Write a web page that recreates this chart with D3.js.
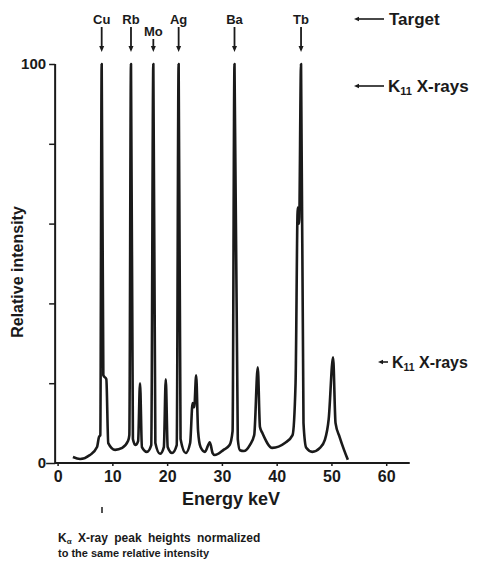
<!DOCTYPE html>
<html>
<head>
<meta charset="utf-8">
<script src="https://cdn.jsdelivr.net/npm/d3@7"></script>
<style>
  body { margin: 0; background: #fff; }
  svg text { font-family: "Liberation Sans", Arial, sans-serif; fill: #1a1a1a; }
</style>
</head>
<body>
<div id="chart"></div>
<script>
// spectrum: [energy keV, relative intensity]
var spectrum = [
    [2.8, 1.5], [4.1, 1.0], [5.9, 2.0], [7.2, 4.0], [7.55, 6.5], [7.8, 7],
    [8.05, 100], [8.35, 22], [8.9, 21], [9.25, 5],
    [10.5, 3.3], [11.8, 3.8], [12.85, 5.5], [13.1, 7],
    [13.4, 100], [13.75, 6], [14.2, 4.5], [14.7, 5.5],
    [15.05, 20], [15.4, 4], [16.3, 2.8], [17.1, 4.5],
    [17.48, 100], [17.85, 5], [18.7, 2.3], [19.4, 4],
    [19.75, 21], [20.1, 4], [20.9, 2.5], [21.75, 4.5],
    [22.1, 100], [22.45, 6], [23.4, 2.5], [24.2, 5],
    [24.65, 15], [24.95, 14], [25.3, 22], [25.65, 8], [26.1, 4],
    [26.9, 2.8], [27.8, 5.2], [28.3, 2.5], [28.7, 2.0],
    [30.3, 3.3], [31.4, 4.5], [31.95, 8],
    [32.3, 100], [32.9, 6], [33.3, 3.2], [34.0, 3.0],
    [35.1, 4.5], [35.9, 7], [36.55, 24], [36.95, 9], [37.4, 7.5],
    [39.2, 3.8], [41.5, 5], [42.9, 7], [43.45, 20],
    [43.85, 64], [44.1, 60], [44.45, 100], [44.9, 10], [45.4, 3.8],
    [46.5, 2.8], [47.9, 3.8], [48.8, 5.8], [49.5, 11],
    [50.3, 26.5], [50.75, 10], [51.5, 6.5], [52.3, 3.3], [53.0, 0.8]
];

// targets (K alpha energies, keV)
var targets = ["Cu", "Rb", "Mo", "Ag", "Ba", "Tb"];
var targetEnergy = [8.05, 13.4, 17.48, 22.1, 32.3, 44.45];
var targetLow = [false, false, true, false, false, false];

var xTicks = [0, 10, 20, 30, 40, 50, 60];
var yTicks = [0, 20, 40, 60, 80, 100];
var yLabels = ["0", "", "", "", "", "100"];

const w = 481;
const h = 566;

const xScale = d3.scaleLinear()
    .domain([0, 60])
    .range([57.6, 386.2]);

const yScale = d3.scaleLinear()
    .domain([0, 100])
    .range([463, 64]);

const svg = d3.select("#chart")
    .append("svg")
    .attr("width", w)
    .attr("height", h);

const ink = "#1a1a1a";

// X axis
const xAxis = d3.axisBottom(xScale)
    .tickValues(xTicks)
    .tickSize(3)
    .tickPadding(5)
    .tickFormat(d3.format("d"));

const gx = svg.append("g")
    .attr("id", "x-axis")
    .attr("transform", "translate(0," + yScale(0) + ")")
    .call(xAxis);
gx.select(".domain").remove();
gx.append("line")
    .attr("x1", xScale(-0.5)).attr("x2", xScale(64.3))
    .attr("y1", 0).attr("y2", 0)
    .attr("stroke", ink).attr("stroke-width", 2);
gx.selectAll(".tick line").attr("stroke", ink).attr("stroke-width", 1.5);
gx.selectAll(".tick text")
    .attr("font-size", 16)
    .attr("font-weight", "bold")
    .attr("fill", ink)
    .attr("font-family", "Liberation Sans, Arial, sans-serif");

// Y axis
const yAxis = d3.axisLeft(yScale)
    .tickValues(yTicks)
    .tickSize(6)
    .tickPadding(3)
    .tickFormat((d, i) => yLabels[i]);

const gy = svg.append("g")
    .attr("id", "y-axis")
    .attr("transform", "translate(" + xScale(-0.45) + ",0)")
    .call(yAxis);
gy.select(".domain").remove();
gy.append("line")
    .attr("x1", 0).attr("x2", 0)
    .attr("y1", yScale(0)).attr("y2", yScale(100))
    .attr("stroke", ink).attr("stroke-width", 2);
gy.selectAll(".tick line").attr("stroke", ink).attr("stroke-width", 1.5);
gy.selectAll(".tick").filter(d => d == 0).select("line").attr("x2", -9);
gy.selectAll(".tick text")
    .attr("font-size", 15)
    .attr("font-weight", "bold")
    .attr("fill", ink)
    .attr("font-family", "Liberation Sans, Arial, sans-serif");

// spectrum
const line = d3.line()
    .x(d => xScale(d[0]))
    .y(d => yScale(d[1]))
    .curve(d3.curveMonotoneX);

svg.append("path")
    .datum(spectrum)
    .attr("d", line)
    .attr("fill", "none")
    .attr("stroke", ink)
    .attr("stroke-width", 2.6)
    .attr("stroke-linejoin", "round");

// target labels and arrows
const tg = svg.append("g");
targets.forEach((name, i) => {
    const x = xScale(targetEnergy[i]);
    const top = targetLow[i] ? 39 : 27;
    tg.append("text")
        .attr("x", x)
        .attr("y", top - 3)
        .attr("text-anchor", "middle")
        .attr("font-size", 13)
        .attr("font-weight", "bold")
        .text(name);
    tg.append("line")
        .attr("x1", x).attr("x2", x)
        .attr("y1", top).attr("y2", 47)
        .attr("stroke", ink)
        .attr("stroke-width", 1.8);
    tg.append("path")
        .attr("d", "M" + (x - 2.5) + ",46 L" + (x + 2.5) + ",46 L" + x + ",52 Z")
        .attr("fill", ink);
});

// right side annotations
function pointer(x1, x2, y) {
    svg.append("line")
        .attr("x1", x2).attr("x2", x1 + 3)
        .attr("y1", y).attr("y2", y)
        .attr("stroke", ink).attr("stroke-width", 1.6);
    svg.append("path")
        .attr("d", "M" + x1 + "," + y + " l5,-2.2 l0,4.4 Z")
        .attr("fill", ink);
}

function kLabel(x, y, size) {
    const t = svg.append("text")
        .attr("x", x).attr("y", y)
        .attr("font-size", size)
        .attr("font-weight", "bold");
    t.append("tspan").text("K");
    t.append("tspan").attr("font-size", size * 0.65).attr("dy", 3).text("11");
    t.append("tspan").attr("dy", -3).text(" X-rays");
}

pointer(354, 384, 19);
svg.append("text")
    .attr("x", 389).attr("y", 25)
    .attr("font-size", 17)
    .attr("font-weight", "bold")
    .text("Target");

pointer(354, 384, 86);
kLabel(388, 92, 17);

pointer(378, 388, 362);
kLabel(392, 368, 16);

// axis titles
svg.append("text")
    .attr("transform", "translate(23,272) rotate(-90)")
    .attr("text-anchor", "middle")
    .attr("font-size", 16)
    .attr("font-weight", "bold")
    .text("Relative intensity");

svg.append("text")
    .attr("x", 231).attr("y", 505)
    .attr("text-anchor", "middle")
    .attr("font-size", 18)
    .attr("font-weight", "bold")
    .text("Energy keV");

// small mark under 10
svg.append("line")
    .attr("x1", 102).attr("x2", 102)
    .attr("y1", 507).attr("y2", 513)
    .attr("stroke", ink).attr("stroke-width", 1.5);

// footnote
const fn = svg.append("text")
    .attr("x", 58).attr("y", 542)
    .attr("font-size", 12)
    .attr("font-weight", "bold")
    .attr("word-spacing", 3);
fn.append("tspan").text("K");
fn.append("tspan").attr("font-size", 8).attr("dy", 2).text("α");
fn.append("tspan").attr("dy", -2).text(" X-ray peak heights normalized");

svg.append("text")
    .attr("x", 58).attr("y", 557)
    .attr("font-size", 11)
    .attr("font-weight", "bold")
    .text("to the same relative intensity");
</script>
</body>
</html>
